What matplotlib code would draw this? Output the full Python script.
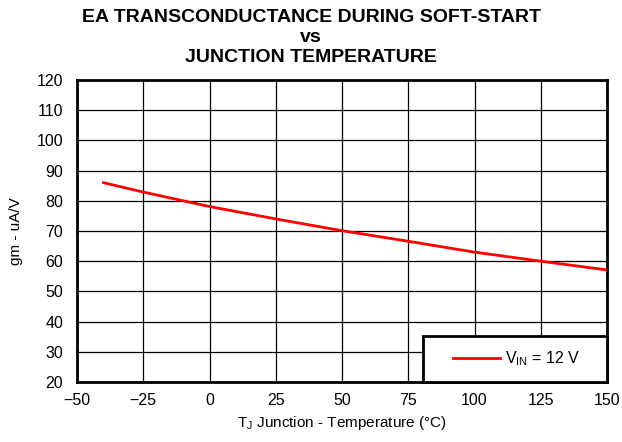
import matplotlib
matplotlib.use("Agg")
import matplotlib.pyplot as plt
from matplotlib.legend_handler import HandlerLine2D

temps = [-40, -25, 0, 25, 50, 75, 100, 125, 150]
gm = [86.0, 82.9, 78.1, 74.0, 70.1, 66.6, 63.0, 60.0, 57.1]
x_ticks = [-50, -25, 0, 25, 50, 75, 100, 125, 150]
x_tick_labels = ["\u221250", "\u221225", "0", "25", "50", "75", "100", "125", "150"]
y_ticks = [20, 30, 40, 50, 60, 70, 80, 90, 100, 110, 120]

plt.rcParams['font.family'] = ['Liberation Sans', 'DejaVu Sans']
plt.rcParams['mathtext.fontset'] = 'custom'
plt.rcParams['mathtext.rm'] = 'Liberation Sans'


class OffsetLineHandler(HandlerLine2D):
    def get_xdata(self, legend, xdescent, ydescent, width, height, fontsize):
        _, xm = super().get_xdata(legend, xdescent, ydescent, width, height, fontsize)
        x0 = -xdescent + 0.25 * width
        return [x0, -xdescent + width], xm


fig = plt.figure(figsize=(6.22, 4.42), dpi=100)
ax = fig.add_axes([77/622, 1-382/442, 530/622, 302/442])

line, = ax.plot(temps, gm, color='#ff0000', lw=2, label=r'V$_{\mathregular{IN}}$ = 12 V', zorder=3)
ax.set_xlim(-50, 150)
ax.set_ylim(20, 120)
ax.set_xticks(x_ticks)
ax.set_xticklabels(x_tick_labels)
ax.set_yticks(y_ticks)
ax.tick_params(axis='x', length=0, labelsize=11.5, pad=8)
ax.tick_params(axis='y', length=0, labelsize=11.5, pad=10)
ax.grid(True, color='black', lw=0.9)
for s in ax.spines.values():
    s.set_linewidth(2)
    s.set_color('black')

ax.set_xlabel(r'T$_{\mathregular{J}}$ Junction - Temperature (°C)', fontsize=11, labelpad=4)
ax.set_ylabel('gm - uA/V', fontsize=11, labelpad=10)

fig.text(0.5, 1-17.5/442, 'EA TRANSCONDUCTANCE DURING SOFT-START', ha='center', va='center',
         fontsize=14, fontweight='bold')
fig.text(0.5, 1-37.5/442, 'vs', ha='center', va='center', fontsize=14, fontweight='bold')
fig.text(0.5, 1-58/442, 'JUNCTION TEMPERATURE', ha='center', va='center',
         fontsize=14, fontweight='bold')

leg = ax.legend(loc='lower left', bbox_to_anchor=((423-77)/530, 0, 184/530, 48/302),
                mode='expand', borderaxespad=0, fancybox=False, framealpha=1,
                edgecolor='black', fontsize=11.5, handlelength=4.0, borderpad=0.85,
                handletextpad=0.3, handler_map={line: OffsetLineHandler()})
leg.get_frame().set_linewidth(2)
leg.set_zorder(5)

fig.savefig('out.png', dpi=100)
